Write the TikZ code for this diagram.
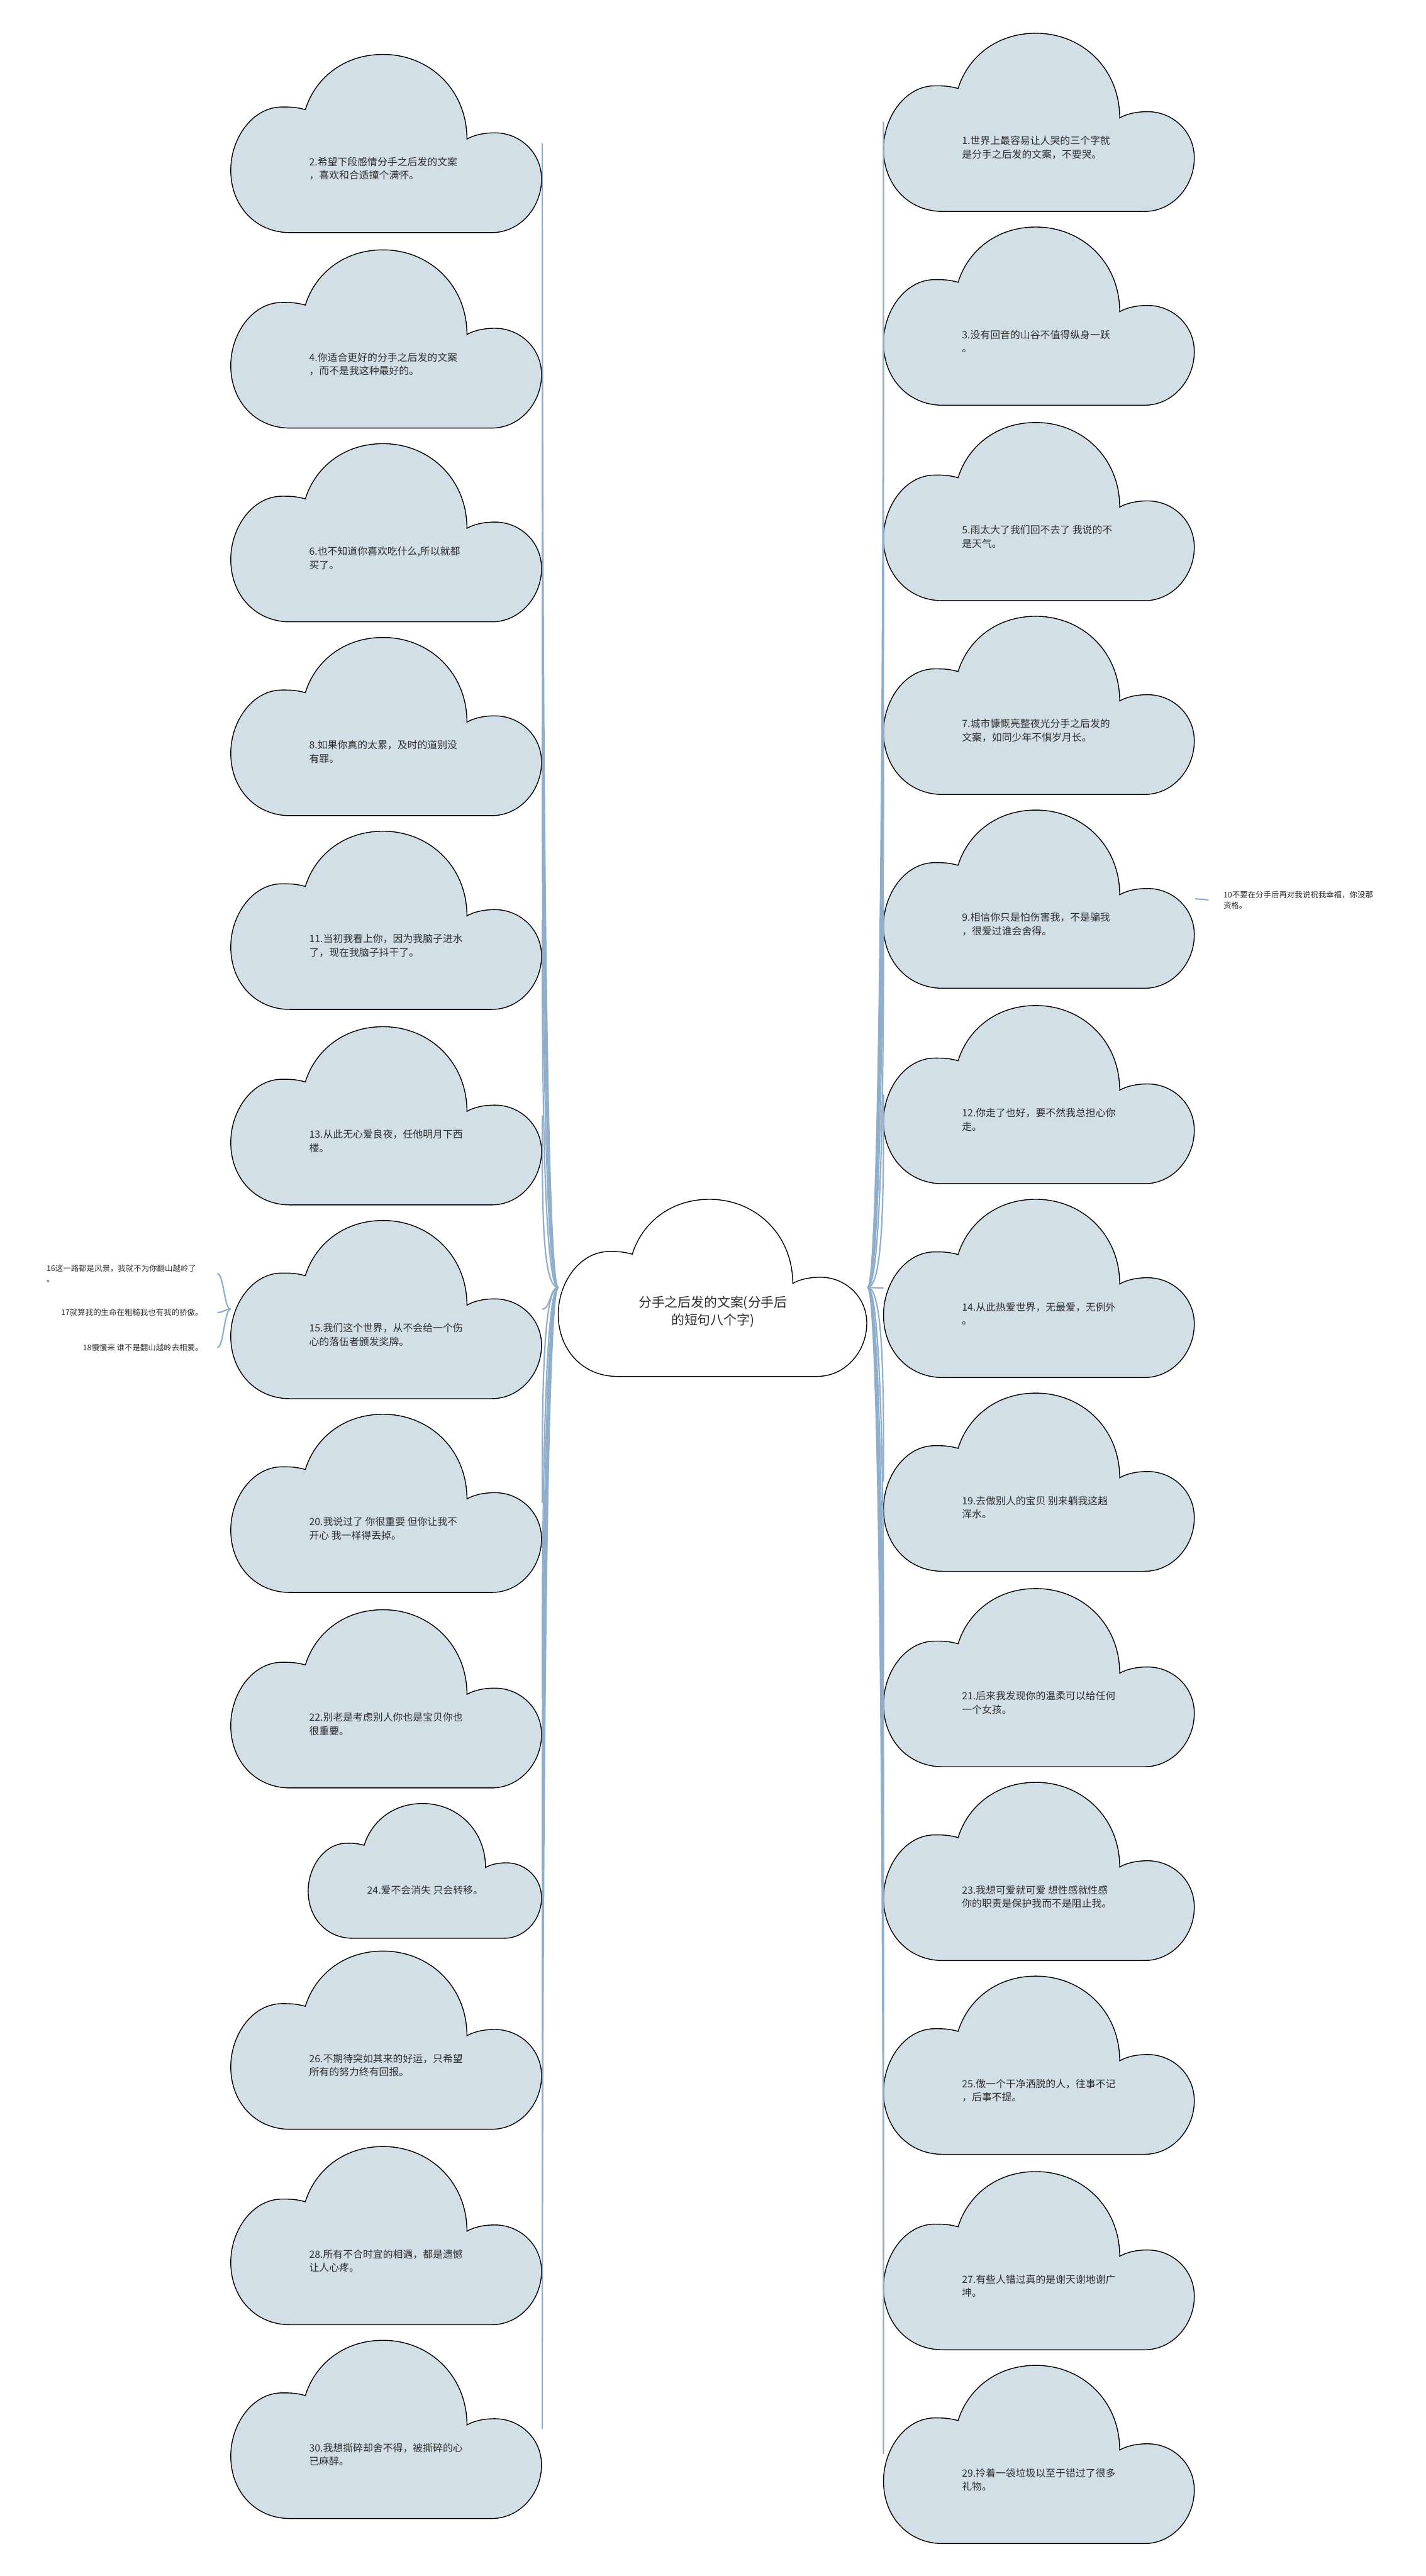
\documentclass[tikz,border=0pt]{standalone}
\usepackage{fontspec}
\newfontfamily\cjk{Noto Sans CJK SC}
\usetikzlibrary{positioning}
\definecolor{cloudfill}{RGB}{211,223,231}
\definecolor{linkblue}{RGB}{143,174,204}
\definecolor{textdark}{RGB}{45,45,45}

% cloud outline drawn over the box of node #1 (width #2, height #3, fill #4)
\newcommand{\cloudshape}[4]{%
  \begin{scope}[shift={(#1.south west)}, x=#2, y=#3]
    \draw[cloudline, fill=#4] (0.19,0) -- (0.84,0)
      .. controls (0.93,0) and (1,0.14) .. (1,0.30)
      .. controls (1,0.45) and (0.93,0.56) .. (0.85,0.56)
      .. controls (0.81,0.56) and (0.78,0.545) .. (0.76,0.525)
      .. controls (0.76,0.80) and (0.64,1) .. (0.49,1)
      .. controls (0.36,1) and (0.27,0.86) .. (0.24,0.69)
      .. controls (0.21,0.705) and (0.19,0.705) .. (0.165,0.705)
      .. controls (0.07,0.705) and (0,0.53) .. (0,0.35)
      .. controls (0,0.15) and (0.08,0) .. (0.19,0) -- cycle;
  \end{scope}}

\begin{document}
\begin{tikzpicture}[
  cloudbox/.style={rectangle, minimum width=5.58cm, minimum height=3.2cm,
                   inner sep=0pt},
  cloudline/.style={draw=black, line width=0.45pt},
  leaftext/.style={anchor=west, xshift=-1.395cm, yshift=-0.46cm, align=left,
                   font=\cjk\fontsize{5.1}{6.9}\selectfont, text=textdark,
                   inner sep=0pt},
  roottext/.style={yshift=-0.44cm, align=center,
                   font=\cjk\fontsize{6.7}{9}\selectfont, text=textdark},
  sidetext/.style={font=\cjk\fontsize{4}{5.4}\selectfont, text=textdark,
                   inner ysep=1pt, inner xsep=0.25cm},
  link/.style={draw=linkblue, line width=0.7pt}
]

\fill[white] (0,0) rectangle (25.60,-46.26);
\useasboundingbox (0,0) rectangle (25.60,-46.26);

% === boxes of the clouds =====================================================
\node[cloudbox, minimum width=5.54cm, minimum height=3.18cm] (RB) at (12.80,-23.12) {};

\node[cloudbox] (B2)  at (6.94, -2.57)  {};
\node[cloudbox] (B4)  at (6.94, -6.08)  {};
\node[cloudbox] (B6)  at (6.94, -9.56)  {};
\node[cloudbox] (B8)  at (6.94, -13.04) {};
\node[cloudbox] (B11) at (6.94, -16.52) {};
\node[cloudbox] (B13) at (6.94, -20.03) {};
\node[cloudbox] (B15) at (6.94, -23.51) {};
\node[cloudbox] (B20) at (6.94, -26.99) {};
\node[cloudbox] (B22) at (6.94, -30.50) {};
\node[cloudbox, minimum width=4.19cm, minimum height=2.42cm] (B24) at (7.635,-33.59) {};
\node[cloudbox] (B26) at (6.94, -36.63) {};
\node[cloudbox] (B28) at (6.94, -40.14) {};
\node[cloudbox] (B30) at (6.94, -43.62) {};

\node[cloudbox] (B1)  at (18.66, -2.19)  {};
\node[cloudbox] (B3)  at (18.66, -5.67)  {};
\node[cloudbox] (B5)  at (18.66, -9.18)  {};
\node[cloudbox] (B7)  at (18.66, -12.66) {};
\node[cloudbox] (B9)  at (18.66, -16.14) {};
\node[cloudbox] (B12) at (18.66, -19.65) {};
\node[cloudbox] (B14) at (18.66, -23.13) {};
\node[cloudbox] (B19) at (18.66, -26.61) {};
\node[cloudbox] (B21) at (18.66, -30.12) {};
\node[cloudbox] (B23) at (18.66, -33.60) {};
\node[cloudbox] (B25) at (18.66, -37.08) {};
\node[cloudbox] (B27) at (18.66, -40.59) {};
\node[cloudbox] (B29) at (18.66, -44.07) {};

% === cloud outlines ==========================================================
\cloudshape{RB}{5.54cm}{3.18cm}{white}
\cloudshape{B24}{4.19cm}{2.42cm}{cloudfill}
\foreach \b in {B2,B4,B6,B8,B11,B13,B15,B20,B22,B26,B28,B30,
                B1,B3,B5,B7,B9,B12,B14,B19,B21,B23,B25,B27,B29}
  \cloudshape{\b}{5.58cm}{3.2cm}{cloudfill};

% === texts ===================================================================
\node[roottext] (RT) at (RB.center) {分手之后发的文案(分手后\\的短句八个字)};

\node[leaftext] (T2)  at (B2.center)  {2.希望下段感情分手之后发的文案\\，喜欢和合适撞个满怀。};
\node[leaftext] (T4)  at (B4.center)  {4.你适合更好的分手之后发的文案\\，而不是我这种最好的。};
\node[leaftext] (T6)  at (B6.center)  {6.也不知道你喜欢吃什么,所以就都\\买了。};
\node[leaftext] (T8)  at (B8.center)  {8.如果你真的太累，及时的道别没\\有罪。};
\node[leaftext] (T11) at (B11.center) {11.当初我看上你，因为我脑子进水\\了，现在我脑子抖干了。};
\node[leaftext] (T13) at (B13.center) {13.从此无心爱良夜，任他明月下西\\楼。};
\node[leaftext] (T15) at (B15.center) {15.我们这个世界，从不会给一个伤\\心的落伍者颁发奖牌。};
\node[leaftext] (T20) at (B20.center) {20.我说过了 你很重要 但你让我不\\开心 我一样得丢掉。};
\node[leaftext] (T22) at (B22.center) {22.别老是考虑别人你也是宝贝你也\\很重要。};
\node[leaftext, xshift=0.345cm, yshift=0.11cm] (T24) at (B24.center) {24.爱不会消失 只会转移。};
\node[leaftext] (T26) at (B26.center) {26.不期待突如其来的好运，只希望\\所有的努力终有回报。};
\node[leaftext] (T28) at (B28.center) {28.所有不合时宜的相遇，都是遗憾\\让人心疼。};
\node[leaftext] (T30) at (B30.center) {30.我想撕碎却舍不得，被撕碎的心\\已麻醉。};

\node[leaftext] (T1)  at (B1.center)  {1.世界上最容易让人哭的三个字就\\是分手之后发的文案，不要哭。};
\node[leaftext] (T3)  at (B3.center)  {3.没有回音的山谷不值得纵身一跃\\。};
\node[leaftext] (T5)  at (B5.center)  {5.雨太大了我们回不去了 我说的不\\是天气。};
\node[leaftext] (T7)  at (B7.center)  {7.城市慷慨亮整夜光分手之后发的\\文案，如同少年不惧岁月长。};
\node[leaftext] (T9)  at (B9.center)  {9.相信你只是怕伤害我，不是骗我\\，很爱过谁会舍得。};
\node[leaftext] (T12) at (B12.center) {12.你走了也好，要不然我总担心你\\走。};
\node[leaftext] (T14) at (B14.center) {14.从此热爱世界，无最爱，无例外\\。};
\node[leaftext] (T19) at (B19.center) {19.去做别人的宝贝 别来躺我这趟\\浑水。};
\node[leaftext] (T21) at (B21.center) {21.后来我发现你的温柔可以给任何\\一个女孩。};
\node[leaftext] (T23) at (B23.center) {23.我想可爱就可爱 想性感就性感\\你的职责是保护我而不是阻止我。};
\node[leaftext] (T25) at (B25.center) {25.做一个干净洒脱的人，往事不记\\，后事不提。};
\node[leaftext] (T27) at (B27.center) {27.有些人错过真的是谢天谢地谢广\\坤。};
\node[leaftext] (T29) at (B29.center) {29.拎着一袋垃圾以至于错过了很多\\礼物。};

% side notes
\node[sidetext, anchor=west, align=left, inner xsep=0.26cm] (T10) at (21.70,-16.16)
      {10不要在分手后再对我说祝我幸福，你没那\\资格。};
\node[sidetext, anchor=east, align=left, inner xsep=0.37cm] (T16) at (3.90,-22.87)
      {16这一路都是风景，我就不为你翻山越岭了\\。};
\node[sidetext, anchor=east] (T17) at (3.90,-23.57) {17就算我的生命在粗糙我也有我的骄傲。};
\node[sidetext, anchor=east] (T18) at (3.90,-24.20) {18慢慢来 谁不是翻山越岭去相爱。};

% === connectors, left side ===================================================
\draw[link] (RB.west) .. controls +(-0.3,0) and +(0,-1.5) .. (B2.east);
\draw[link] (RB.west) .. controls +(-0.3,0) and +(0,-1.5) .. (B4.east);
\draw[link] (RB.west) .. controls +(-0.3,0) and +(0,-1.5) .. (B6.east);
\draw[link] (RB.west) .. controls +(-0.3,0) and +(0,-1.5) .. (B8.east);
\draw[link] (RB.west) .. controls +(-0.3,0) and +(0,-1.5) .. (B11.east);
\draw[link] (RB.west) .. controls +(-0.3,0) and +(0,-1.5) .. (B13.east);
\draw[link] (RB.west) .. controls +(-0.15,0) and +(0.15,0) .. (B15.east);
\draw[link] (RB.west) .. controls +(-0.3,0) and +(0,1.5) .. (B20.east);
\draw[link] (RB.west) .. controls +(-0.3,0) and +(0,1.5) .. (B22.east);
\draw[link] (RB.west) .. controls +(-0.3,0) and +(0,1.5) .. (B24.east);
\draw[link] (RB.west) .. controls +(-0.3,0) and +(0,1.5) .. (B26.east);
\draw[link] (RB.west) .. controls +(-0.3,0) and +(0,1.5) .. (B28.east);
\draw[link] (RB.west) .. controls +(-0.3,0) and +(0,1.5) .. (B30.east);

% === connectors, right side ==================================================
\draw[link] (RB.east) .. controls +(0.3,0) and +(0,-1.5) .. (B1.west);
\draw[link] (RB.east) .. controls +(0.3,0) and +(0,-1.5) .. (B3.west);
\draw[link] (RB.east) .. controls +(0.3,0) and +(0,-1.5) .. (B5.west);
\draw[link] (RB.east) .. controls +(0.3,0) and +(0,-1.5) .. (B7.west);
\draw[link] (RB.east) .. controls +(0.3,0) and +(0,-1.5) .. (B9.west);
\draw[link] (RB.east) .. controls +(0.3,0) and +(0,-1.5) .. (B12.west);
\draw[link] (RB.east) -- (B14.west);
\draw[link] (RB.east) .. controls +(0.3,0) and +(0,1.5) .. (B19.west);
\draw[link] (RB.east) .. controls +(0.3,0) and +(0,1.5) .. (B21.west);
\draw[link] (RB.east) .. controls +(0.3,0) and +(0,1.5) .. (B23.west);
\draw[link] (RB.east) .. controls +(0.3,0) and +(0,1.5) .. (B25.west);
\draw[link] (RB.east) .. controls +(0.3,0) and +(0,1.5) .. (B27.west);
\draw[link] (RB.east) .. controls +(0.3,0) and +(0,1.5) .. (B29.west);

% === side notes ==============================================================
\draw[link] (B9.east) -- (T10.west);
\draw[link] (B15.west) .. controls +(-0.12,0) and +(0.12,0) .. (T16.east);
\draw[link] (B15.west) .. controls +(-0.12,0) and +(0.12,0) .. (T17.east);
\draw[link] (B15.west) .. controls +(-0.12,0) and +(0.12,0) .. (T18.east);

\end{tikzpicture}
\end{document}
